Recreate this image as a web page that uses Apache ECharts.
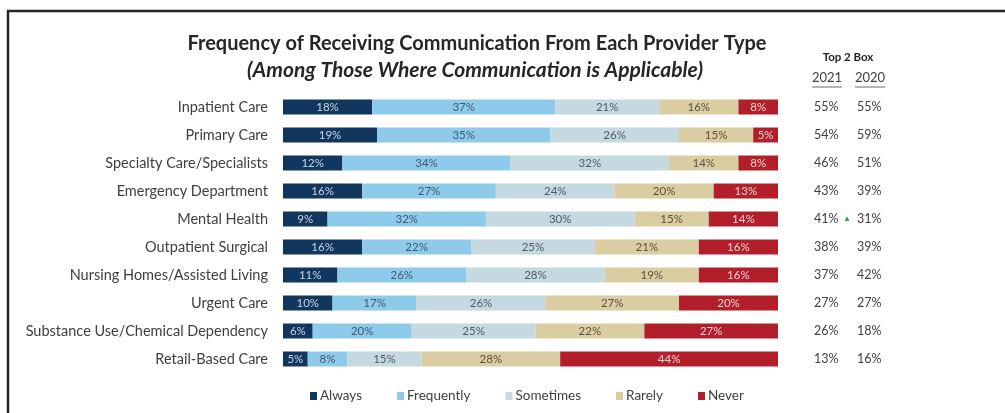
<!DOCTYPE html>
<html>
<head>
<meta charset="utf-8">
<script src="https://cdn.jsdelivr.net/npm/echarts@6/dist/echarts.min.js"></script>
<style>html,body{margin:0;padding:0;background:#fff}#c{width:1005px;height:413px}</style>
</head>
<body>
<div id="c"></div>
<script>
const categories = ['Inpatient Care','Primary Care','Specialty Care/Specialists','Emergency Department','Mental Health','Outpatient Surgical','Nursing Homes/Assisted Living','Urgent Care','Substance Use/Chemical Dependency','Retail-Based Care'];
const always     = [18,19,12,16, 9,16,11,10, 6, 5];
const frequently = [37,35,34,27,32,22,26,17,20, 8];
const sometimes  = [21,26,32,24,30,25,28,26,25,15];
const rarely     = [16,15,14,20,15,21,19,27,22,28];
const never      = [ 8, 5, 8,13,14,16,16,20,27,44];
const top2021 = ['55%','54%','46%','43%','41%','38%','37%','27%','26%','13%'];
const top2020 = ['55%','59%','51%','39%','31%','39%','42%','27%','18%','16%'];
const sigUp   = [false,false,false,false,true,false,false,false,false,false];
const seriesNames = ['Always','Frequently','Sometimes','Rarely','Never'];
const headerYears = ['2021','2020'];

const FONT = 'Lato, "Open Sans", sans-serif';
const colors = ['#12375f','#8ecbea','#c5d9e1','#dacda2','#b21f2b'];
const labelColors = ['#c9d4e0','#3f5a70','#4f5b66','#5a5140','#f3d3d3'];
const values = [always, frequently, sometimes, rarely, never];

const chart = echarts.init(document.getElementById('c'));
chart.setOption({
  animation: false,
  color: colors,
  graphic: [
    {type: 'rect', shape: {x: 8, y: 11, width: 1100, height: 600}, style: {fill: 'none', stroke: '#262626', lineWidth: 2.5}, silent: true},
    {type: 'text', x: 477, y: 44, style: {text: 'Frequency of Receiving Communication From Each Provider Type', align: 'center', verticalAlign: 'middle',
      font: 'bold 20px ' + FONT, fill: '#262626'}},
    {type: 'text', x: 475, y: 70, style: {text: '(Among Those Where Communication is Applicable)', align: 'center', verticalAlign: 'middle',
      font: 'italic bold 21px ' + FONT, fill: '#262626'}},
    {type: 'text', x: 848, y: 57, style: {text: 'Top 2 Box', align: 'center', verticalAlign: 'middle',
      font: 'bold 11.5px ' + FONT, fill: '#262626'}},
    {type: 'text', x: 827, y: 78, style: {text: headerYears[0], align: 'center', verticalAlign: 'middle',
      font: '13px ' + FONT, fill: '#404040'}},
    {type: 'text', x: 870, y: 78, style: {text: headerYears[1], align: 'center', verticalAlign: 'middle',
      font: '13px ' + FONT, fill: '#404040'}},
    {type: 'line', shape: {x1: 812, y1: 87, x2: 842, y2: 87}, style: {stroke: '#9a9a9a', lineWidth: 1.5}},
    {type: 'line', shape: {x1: 855, y1: 87, x2: 885, y2: 87}, style: {stroke: '#9a9a9a', lineWidth: 1.5}}
  ],
  legend: {
    bottom: 5, left: 305, itemWidth: 7, itemHeight: 8, itemGap: 35,
    icon: 'rect',
    textStyle: {fontFamily: FONT, fontSize: 13.5, color: '#404040', padding: [0,0,0,-2]},
    data: seriesNames
  },
  grid: {left: 283, right: 227, top: 93, height: 280},
  xAxis: {type: 'value', min: 0, max: 100, show: false},
  yAxis: [
    {type: 'category', data: categories, inverse: true,
     axisLine: {show: false}, axisTick: {show: false},
     axisLabel: {fontFamily: FONT, fontSize: 14.5, color: '#404040', margin: 15}},
    {type: 'category', data: categories, inverse: true, position: 'right',
     axisLine: {show: false}, axisTick: {show: false},
     axisLabel: {margin: 36, align: 'left',
       formatter: (v, i) => '{a|' + top2021[i] + '}{t|' + (sigUp[i] ? '▲' : '') + '}{b|' + top2020[i] + '}',
       rich: {
         a: {fontFamily: FONT, fontSize: 12.5, color: '#404040', width: 29, align: 'left'},
         t: {fontSize: 8, color: '#2e9e5b', width: 14, align: 'left', verticalAlign: 'middle'},
         b: {fontFamily: FONT, fontSize: 12.5, color: '#404040', align: 'left'}
       }}}
  ],
  series: seriesNames.map((n, k) => ({
    name: n, type: 'bar', stack: 'all', barWidth: 15, data: values[k],
    label: {show: true, position: 'inside', formatter: '{c}%', fontFamily: FONT, fontSize: 11.5, color: labelColors[k]},
    itemStyle: {color: colors[k]}
  }))
});
</script>
</body>
</html>
